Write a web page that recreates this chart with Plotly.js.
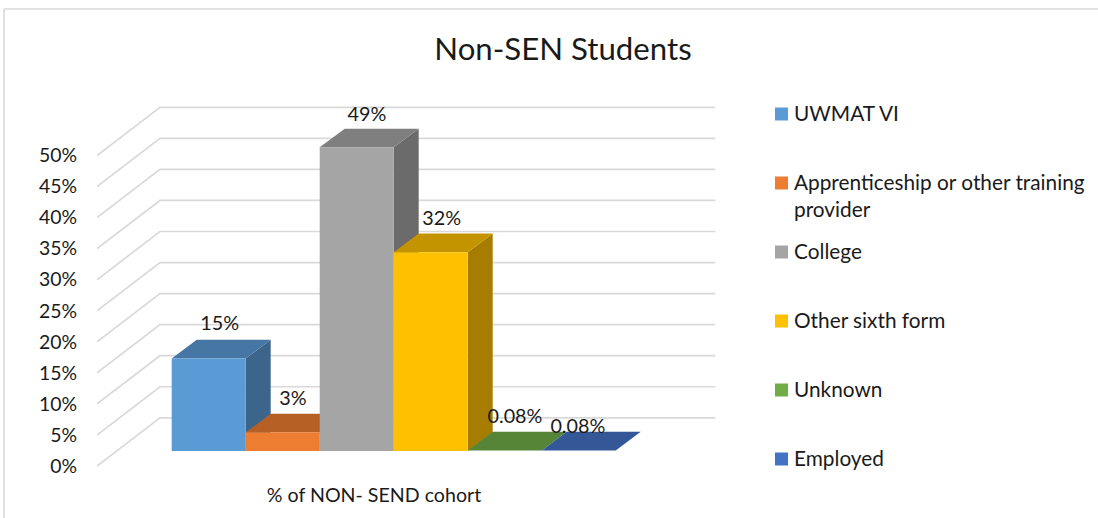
<!DOCTYPE html>
<html><head><meta charset="utf-8">
<script src="https://cdn.plot.ly/plotly-3.0.1.min.js"></script>
<style>html,body{margin:0;padding:0;background:#fff}#c{width:1098px;height:518px}</style>
</head><body><div id="c"></div>
<script>
// DATA
const seriesNames = ['UWMAT VI','Apprenticeship or other training provider','College','Other sixth form','Unknown','Employed'];
const legendLabels = ['UWMAT VI','Apprenticeship or other training<br>provider','College','Other sixth form','Unknown','Employed'];
const seriesValues = [14.9, 3, 48.9, 32, 0.08, 0.08];
const dataLabels = ['15%','3%','49%','32%','0.08%','0.08%'];
const category = '% of NON- SEND cohort';
const yTicks = [0,5,10,15,20,25,30,35,40,45,50];
const colors = ['#5B9BD5','#ED7D31','#A5A5A5','#FFC000','#70AD47','#4472C4'];

// GEOMETRY (oblique projection, expressed in axis units)
const W=1098,H=518;
const pxPerBar=74, pxPerPct=6.21;
const bar0Px=171.7, zeroPx=466;
const L=97,R=720,T=100,B=470;
const xr=[(L-bar0Px)/pxPerBar,(R-bar0Px)/pxPerBar];
const yr=[(zeroPx-B)/pxPerPct,(zeroPx-T)/pxPerPct];
const wallDx=63/pxPerBar, wallDy=48.2/pxPerPct;
const wallRight=(715.3-bar0Px)/pxPerBar;
const depthDx=25/pxPerBar, depthDy=18.7/pxPerPct;
const floorY=15/pxPerPct;
const xLeft=(97-bar0Px)/pxPerBar;
const FONT='Lato, sans-serif', INK='#1a1a1a';

function shade(hex,f){
  const n=parseInt(hex.slice(1),16);
  const c=[n>>16,(n>>8)&255,n&255].map(v=>Math.round(v*f));
  return 'rgb('+c.join(',')+')';
}
function poly(xs,ys,col){
  return {type:'scatter',mode:'lines',x:xs.concat(xs[0]),y:ys.concat(ys[0]),fill:'toself',fillcolor:col,
    line:{width:0,color:col},hoverinfo:'skip',showlegend:false};
}
const traces=[];
// gridlines: walls
const gx=[],gy=[];
yTicks.forEach(t=>{gx.push(xLeft,xLeft+wallDx,wallRight,null);gy.push(t,t+wallDy,t+wallDy,null);});
traces.push({type:'scatter',mode:'lines',x:gx,y:gy,line:{color:'#d9d9d9',width:1.7},hoverinfo:'skip',showlegend:false});
// bars
seriesValues.forEach((v,i)=>{
  const a=i,b=i+1,lo=floorY,hi=floorY+v,c=colors[i];
  traces.push(poly([b,b+depthDx,b+depthDx,b],[lo,lo+depthDy,hi+depthDy,hi],shade(c,0.65)));
  traces.push(poly([a,b,b+depthDx,a+depthDx],[hi,hi,hi+depthDy,hi+depthDy],shade(c,0.77)));
  traces.push(poly([a,b,b,a],[lo,lo,hi,hi],c));
});
// data labels
const labelNudgeX=[-0.02,-0.03,-0.03,-0.02,-0.03,-0.18];
const labelNudgeY=[0.75,0.65,0.5,0.65,0.65,-0.95];
traces.push({type:'scatter',mode:'text',cliponaxis:false,
  x:seriesValues.map((v,i)=>i+0.5+depthDx/2+labelNudgeX[i]),
  y:seriesValues.map((v,i)=>floorY+v+depthDy+labelNudgeY[i]),
  text:dataLabels,textposition:'top center',
  textfont:{family:FONT,size:19.8,color:INK},hoverinfo:'skip',showlegend:false});

const px=x=>(x-L)/(R-L), py=y=>(B-y)/(B-T);
const legendY=[114,183,252,321,390,459];
const shapes=[
  {type:'line',xref:'paper',yref:'paper',x0:px(4),x1:px(1098),y0:py(9),y1:py(9),line:{color:'#d9d9d9',width:1.6}},
  {type:'line',xref:'paper',yref:'paper',x0:px(4),x1:px(4),y0:py(9),y1:py(518),line:{color:'#d9d9d9',width:1.6}}
];
const annotations=[];
legendY.forEach((y,i)=>{
  shapes.push({type:'rect',xref:'paper',yref:'paper',x0:px(775),x1:px(788),y0:py(y-6.5),y1:py(y+6.5),fillcolor:colors[i],line:{width:0}});
  annotations.push({xref:'paper',yref:'paper',x:px(792.5),y:py(y-15),xanchor:'left',yanchor:'top',align:'left',showarrow:false,
    text:legendLabels[i],borderpad:0,font:{family:FONT,size:20.8,color:INK}});
});

Plotly.newPlot('c',traces,{
  width:W,height:H,autosize:false,paper_bgcolor:'#fff',plot_bgcolor:'rgba(0,0,0,0)',showlegend:false,
  margin:{l:L,r:W-R,t:T,b:H-B,pad:0},
  title:{text:'Non-SEN Students',x:563/W,xanchor:'center',xref:'container',y:1-49/H,yanchor:'middle',yref:'container',
    font:{family:FONT,size:31.2,color:INK}},
  xaxis:{range:xr,showgrid:false,zeroline:false,showline:false,tickmode:'array',tickvals:[(374-bar0Px)/pxPerBar],ticktext:[category],
    ticks:'outside',ticklen:7,tickcolor:'rgba(0,0,0,0)',tickfont:{family:FONT,size:19.6,color:INK}},
  yaxis:{range:yr,showgrid:false,zeroline:false,showline:false,tickmode:'array',tickvals:yTicks,ticktext:yTicks.map(t=>t+'%'),
    ticks:'outside',ticklen:15,tickcolor:'rgba(0,0,0,0)',tickfont:{family:FONT,size:19.4,color:INK}},
  shapes:shapes,annotations:annotations
},{staticPlot:true,displayModeBar:false});
</script></body></html>
